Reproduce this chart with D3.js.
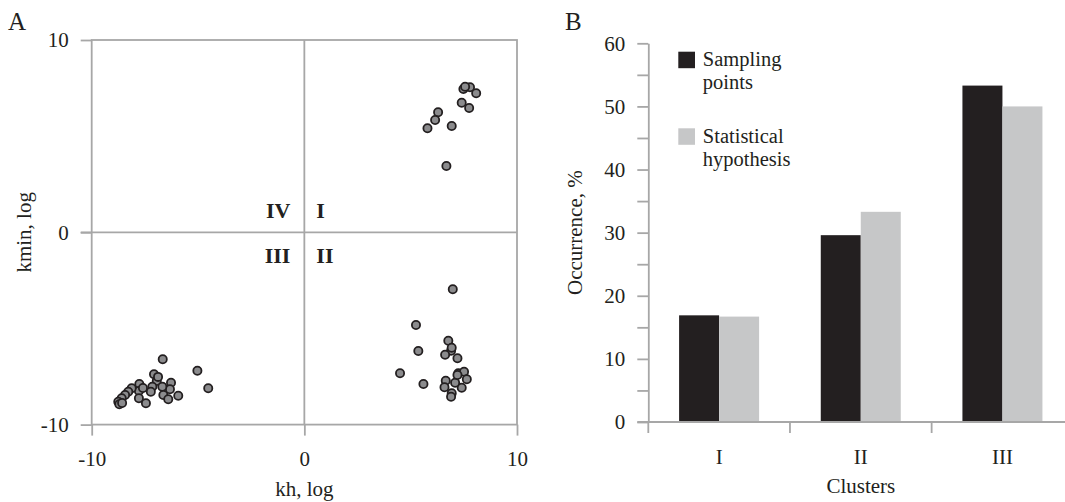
<!DOCTYPE html>
<html>
<head>
<meta charset="utf-8">
<script src="https://cdn.jsdelivr.net/npm/d3@7"></script>
<style>
  html, body { margin: 0; padding: 0; background: #fff; }
  svg { display: block; }
  text { font-family: "Liberation Serif", "Times New Roman", serif; fill: #231f20; }
</style>
</head>
<body>
<svg id="chart" width="1065" height="502"></svg>
<script>
// ---------- Panel A data (kh, kmin on log scale) ----------
const khValues = [
  // quadrant I
  7.48, 7.79, 8.08, 7.56, 7.40, 7.75, 6.29, 6.15, 5.79, 6.93, 6.68,
  // quadrant II
  6.98, 5.25, 6.77, 5.36, 6.90, 6.62, 6.93, 7.20, 4.50, 5.60, 7.24, 7.51, 7.64, 7.40, 7.09, 6.65, 6.59, 6.93, 6.90, 7.20,
  // quadrant III
  -6.66, -5.03, -4.52, -7.07, -6.94, -7.15, -6.27, -6.32, -6.68, -6.63, -6.40, -5.93, -7.22,
  -7.76, -7.78, -7.78, -7.45, -8.12, -8.28, -8.43, -8.59, -8.75, -8.70, -8.57, -7.59, -6.88
];
const kminValues = [
  7.45, 7.54, 7.23, 7.57, 6.74, 6.46, 6.24, 5.84, 5.41, 5.53, 3.45,
  -2.96, -4.82, -5.64, -6.17, -6.16, -6.37, -6.00, -6.55, -7.33, -7.89, -7.33, -7.25, -7.64, -8.08, -7.82, -7.72, -8.06, -8.37, -8.55, -7.42,
  -6.60, -7.20, -8.11, -7.38, -7.73, -8.03, -7.82, -8.16, -8.03, -8.46, -8.68, -8.50, -8.29,
  -7.89, -8.25, -8.63, -8.89, -8.11, -8.29, -8.46, -8.63, -8.81, -8.94, -8.88, -8.10, -7.52
];
const scatterTicks = [-10, 0, 10];
const quadrantLabels = ["I", "II", "III", "IV"];

// ---------- Panel B data ----------
const clusters = ["I", "II", "III"];
const seriesNames = ["Sampling points", "Statistical hypothesis"];
const samplingPoints = [16.9, 29.6, 53.3];
const statisticalHypothesis = [16.7, 33.3, 50.0];
const barTicks = [0, 5, 10, 15, 20, 25, 30, 35, 40, 45, 50, 55, 60];

const svg = d3.select("#chart");
const AXIS = "#a7a7a7";
const DARK = "#231f20";
const LIGHT = "#c6c7c8";
const POINT = "#8b8b8d";
const FONT = "Liberation Serif";

// ================= Panel A =================
const xA = d3.scaleLinear().domain([-10, 10]).range([91.7, 517]);
const yA = d3.scaleLinear().domain([-10, 10]).range([424.6, 40]);
const gA = svg.append("g");

// frame
gA.append("rect")
  .attr("x", xA(-10)).attr("y", yA(10))
  .attr("width", xA(10) - xA(-10)).attr("height", yA(-10) - yA(10))
  .attr("fill", "none").attr("stroke", AXIS).attr("stroke-width", 1.8);
// center cross
gA.append("line").attr("x1", xA(0)).attr("x2", xA(0)).attr("y1", yA(10)).attr("y2", yA(-10))
  .attr("stroke", AXIS).attr("stroke-width", 1.8);
gA.append("line").attr("x1", xA(-10) - 11).attr("x2", xA(10)).attr("y1", yA(0)).attr("y2", yA(0))
  .attr("stroke", AXIS).attr("stroke-width", 1.8);

// axes
const fmt = d => String(d);
const axA_x = gA.append("g").attr("transform", `translate(0,${yA(-10)})`)
  .call(d3.axisBottom(xA).tickValues(scatterTicks).tickSize(11).tickSizeOuter(0).tickPadding(10).tickFormat(fmt));
const axA_y = gA.append("g").attr("transform", `translate(${xA(-10)},0)`)
  .call(d3.axisLeft(yA).tickValues(scatterTicks).tickSize(11).tickSizeOuter(0).tickPadding(12).tickFormat(fmt));
[axA_x, axA_y].forEach(a => {
  a.attr("font-family", FONT);
  a.select(".domain").remove();
  a.selectAll(".tick line").attr("stroke", AXIS).attr("stroke-width", 1.8);
  a.selectAll(".tick text").style("font-family", FONT).style("font-size", "21px").attr("fill", DARK);
});
axA_x.selectAll(".tick text").attr("dy", "0.95em");

// quadrant labels
const qPos = {
  "I":   { x: xA(0) + 12, y: yA(0) - 14, anchor: "start" },
  "II":  { x: xA(0) + 12, y: yA(0) + 31, anchor: "start" },
  "III": { x: xA(0) - 14, y: yA(0) + 31, anchor: "end" },
  "IV":  { x: xA(0) - 14, y: yA(0) - 14, anchor: "end" }
};
gA.selectAll("text.q").data(quadrantLabels).enter().append("text")
  .attr("class", "q")
  .attr("x", d => qPos[d].x).attr("y", d => qPos[d].y)
  .attr("text-anchor", d => qPos[d].anchor)
  .style("font-size", "22px").style("font-weight", "bold")
  .text(d => d);

// points
const pts = khValues.map((v, i) => ({ kh: v, kmin: kminValues[i] }));
gA.selectAll("circle").data(pts).enter().append("circle")
  .attr("cx", d => xA(d.kh)).attr("cy", d => yA(d.kmin))
  .attr("r", 4.1)
  .attr("fill", POINT).attr("stroke", DARK).attr("stroke-width", 1.8);

// titles
gA.append("text").attr("x", xA(0)).attr("y", 496).attr("text-anchor", "middle")
  .style("font-size", "21px").text("kh, log");
gA.append("text").attr("transform", `translate(31,${yA(0)}) rotate(-90)`).attr("text-anchor", "middle")
  .style("font-size", "21px").text("kmin, log");
gA.append("text").attr("x", 8).attr("y", 30).style("font-size", "25px").text("A");

// ================= Panel B =================
const yB = d3.scaleLinear().domain([0, 60]).range([422, 43.3]);
const xB = d3.scaleBand().domain(clusters).range([648.3, 1073.3]).padding(0);
const xSub = d3.scaleBand().domain(seriesNames).range([30.8, 110.8]).padding(0);
const gB = svg.append("g");

const series = [samplingPoints, statisticalHypothesis];
const colors = [DARK, LIGHT];
seriesNames.forEach((name, si) => {
  gB.selectAll(`rect.s${si}`).data(clusters).enter().append("rect")
    .attr("class", `s${si}`)
    .attr("x", c => xB(c) + xSub(name))
    .attr("width", xSub.bandwidth())
    .attr("y", (c, i) => yB(series[si][i]))
    .attr("height", (c, i) => yB(0) - yB(series[si][i]))
    .attr("fill", colors[si]);
});

// y axis
const axB_y = gB.append("g").attr("transform", `translate(${xB.range()[0]},0)`)
  .call(d3.axisLeft(yB).tickValues(barTicks).tickSize(11).tickSizeOuter(0).tickPadding(12)
    .tickFormat(d => d % 10 === 0 ? String(d) : ""));
axB_y.attr("font-family", FONT);
axB_y.select(".domain").attr("stroke", AXIS).attr("stroke-width", 1.8);
axB_y.selectAll(".tick line").attr("stroke", AXIS).attr("stroke-width", 1.8);
axB_y.selectAll(".tick text").style("font-family", FONT).style("font-size", "21px").attr("fill", DARK);

// x axis line + boundary ticks
gB.append("line").attr("x1", xB.range()[0] - 11).attr("x2", xB.range()[1])
  .attr("y1", yB(0)).attr("y2", yB(0)).attr("stroke", AXIS).attr("stroke-width", 1.8);
const bounds = clusters.map(c => xB(c)).concat([xB.range()[1]]);
gB.selectAll("line.bt").data(bounds).enter().append("line").attr("class", "bt")
  .attr("x1", d => d).attr("x2", d => d).attr("y1", yB(0)).attr("y2", yB(0) + 11)
  .attr("stroke", AXIS).attr("stroke-width", 1.8);
const axB_x = gB.append("g").attr("transform", `translate(0,${yB(0)})`)
  .call(d3.axisBottom(xB).tickSize(0).tickPadding(27));
axB_x.attr("font-family", FONT);
axB_x.select(".domain").remove();
axB_x.selectAll(".tick text").style("font-family", FONT).style("font-size", "21px").attr("fill", DARK);

// titles
gB.append("text").attr("x", xB("II") + xB.bandwidth() / 2).attr("y", 493).attr("text-anchor", "middle")
  .style("font-size", "21px").text("Clusters");
gB.append("text").attr("transform", `translate(582,${yB(30)}) rotate(-90)`).attr("text-anchor", "middle")
  .style("font-size", "21px").text("Occurrence, %");
gB.append("text").attr("x", 565).attr("y", 30).style("font-size", "25px").text("B");

// legend
const legendLines = [["Sampling", "points"], ["Statistical", "hypothesis"]];
const lg = gB.append("g").attr("transform", "translate(678.3,51.7)");
seriesNames.forEach((name, i) => {
  const row = lg.append("g").attr("transform", `translate(0,${i * 76.6})`);
  row.append("rect").attr("width", 16.7).attr("height", 16.5).attr("fill", colors[i]);
  row.append("text").attr("x", 24.5).attr("y", 14.5).style("font-size", "20.5px")
    .selectAll("tspan").data(legendLines[i]).enter().append("tspan")
    .attr("x", 24.5).attr("dy", (d, j) => j === 0 ? 0 : 23).text(d => d);
});
</script>
</body>
</html>
